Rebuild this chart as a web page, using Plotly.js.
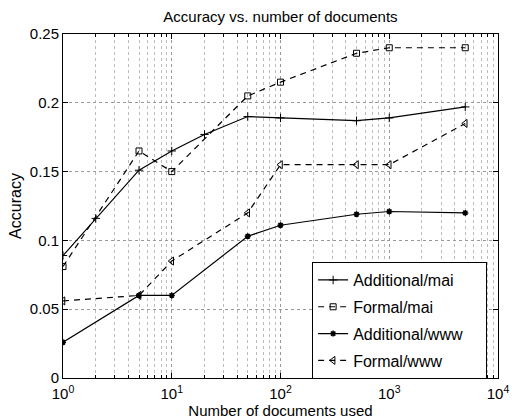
<!DOCTYPE html>
<html><head><meta charset="utf-8">
<script src="https://cdn.plot.ly/plotly-3.0.1.min.js"></script>
<style>html,body{margin:0;padding:0;background:#fff;}#plot{width:512px;height:419px;}</style>
</head><body><div id="plot"></div>
<script>
var seriesNames = ['Additional/mai', 'Formal/mai', 'Additional/www', 'Formal/www'];
var xAddMai = [1, 2, 5, 10, 20, 50, 100, 500, 1000, 5000];
var yAddMai = [0.089, 0.116, 0.151, 0.165, 0.177, 0.190, 0.189, 0.187, 0.189, 0.197];
var xDocs = [1, 5, 10, 50, 100, 500, 1000, 5000];
var yFormalMai = [0.081, 0.165, 0.150, 0.205, 0.215, 0.236, 0.240, 0.240];
var yAddWww = [0.026, 0.060, 0.060, 0.103, 0.111, 0.119, 0.121, 0.120];
var yFormalWww = [0.056, 0.060, 0.085, 0.120, 0.155, 0.155, 0.155, 0.185];
var xTickVals = [1, 10, 100, 1000, 10000];
var xTickText = ['10<sup>0</sup>', '10<sup>1</sup>', '10<sup>2</sup>', '10<sup>3</sup>', '10<sup>4</sup>'];
var xMinorVals = [2,3,4,5,6,7,8,9,20,30,40,50,60,70,80,90,200,300,400,500,600,700,800,900,2000,3000,4000,5000,6000,7000,8000,9000];
var yTickVals = [0, 0.05, 0.1, 0.15, 0.2, 0.25];
var yTickText = ['0', '0.05', '0.1', '0.15', '0.2', '0.25'];

var font = 'Liberation Sans, Arial, Helvetica, sans-serif';
var pad = '\u00a0\u00a0\u00a0\u00a0';
var traces = [
  {x: xAddMai, y: yAddMai, name: seriesNames[0] + pad, legendgroup: 'a', mode: 'lines+markers',
   line: {color: '#000', width: 1.2, dash: 'solid'},
   marker: {symbol: 'cross-thin-open', size: 6, color: '#000', line: {color: '#000', width: 1}}},
  {x: xDocs, y: yFormalMai, name: seriesNames[1] + pad, legendgroup: 'b', mode: 'lines+markers',
   line: {color: '#000', width: 1.2, dash: '6px,5px'},
   marker: {symbol: 'square-open', size: 6, color: '#000', line: {color: '#000', width: 1}}},
  {x: xDocs, y: yAddWww, name: seriesNames[2] + pad, legendgroup: 'c', mode: 'lines+markers',
   line: {color: '#000', width: 1.2, dash: 'solid'},
   marker: {symbol: 'asterisk-open', size: 5, color: '#000', line: {color: '#000', width: 1.5}}},
  {x: xDocs, y: yFormalWww, name: seriesNames[3] + pad, legendgroup: 'd', mode: 'lines+markers',
   line: {color: '#000', width: 1.2, dash: '6px,5px'},
   marker: {symbol: 'triangle-left-open', size: 7, color: '#000', line: {color: '#000', width: 1}}}
];

var layout = {
  width: 512, height: 419,
  margin: {l: 63, r: 14, t: 34, b: 41},
  paper_bgcolor: '#fff', plot_bgcolor: '#fff',
  font: {family: font, size: 15, color: '#000'},
  showlegend: true,
  title: {text: 'Accuracy vs. number of documents', font: {family: font, size: 15, color: '#000'},
          xref: 'paper', x: 0.5, xanchor: 'center', yref: 'container', y: 0.96, yanchor: 'middle'},
  xaxis: {
    type: 'log', range: [0, 4],
    tickmode: 'array', tickvals: xTickVals, ticktext: xTickText,
    ticks: 'inside', ticklen: 5, tickcolor: '#000', ticklabelstandoff: 2,
    showline: true, linecolor: '#000', linewidth: 1, mirror: 'ticks',
    showgrid: true, gridcolor: '#999', griddash: 'dot', gridwidth: 1,
    minor: {tickmode: 'array', tickvals: xMinorVals, ticks: 'inside', ticklen: 3, tickcolor: '#000',
            showgrid: true, gridcolor: '#bbb', griddash: 'dot', gridwidth: 1},
    zeroline: false,
    tickfont: {family: font, size: 15, color: '#000'},
    title: {text: 'Number of documents used', font: {family: font, size: 15, color: '#000'}, standoff: 0}
  },
  yaxis: {
    range: [0, 0.25],
    tickmode: 'array', tickvals: yTickVals, ticktext: yTickText,
    ticks: 'inside', ticklen: 5, tickcolor: '#000',
    showline: true, linecolor: '#000', linewidth: 1, mirror: 'ticks',
    showgrid: true, gridcolor: '#999', griddash: 'dot', gridwidth: 1,
    zeroline: false,
    tickfont: {family: font, size: 15, color: '#000'},
    title: {text: 'Accuracy', font: {family: font, size: 16, color: '#000'}, standoff: 4}
  },
  legend: {
    x: 0.975, xanchor: 'right', y: 0.337, yanchor: 'top',
    bgcolor: '#fff', bordercolor: '#000', borderwidth: 1,
    font: {family: font, size: 16, color: '#000'},
    tracegroupgap: 3, itemwidth: 30
  }
};

Plotly.newPlot('plot', traces, layout, {staticPlot: true, displayModeBar: false});
</script>
</body></html>
